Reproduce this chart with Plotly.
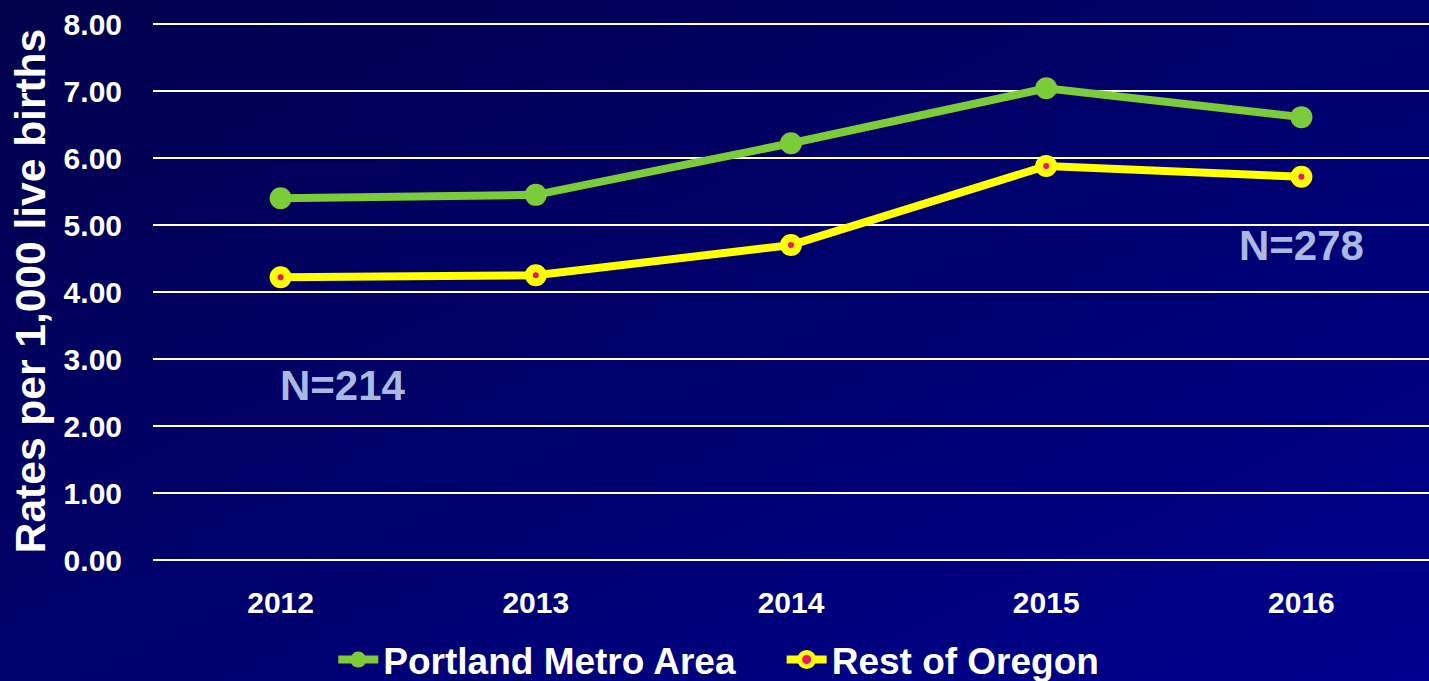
import base64
import plotly.graph_objects as go

years = [2012, 2013, 2014, 2015, 2016]
year_labels = ["2012", "2013", "2014", "2015", "2016"]
portland = [5.40, 5.45, 6.22, 7.04, 6.61]
rest = [4.22, 4.25, 4.70, 5.88, 5.72]
y_ticks = [0, 1, 2, 3, 4, 5, 6, 7, 8]
y_tick_labels = ["0.00", "1.00", "2.00", "3.00", "4.00", "5.00", "6.00", "7.00", "8.00"]
n_labels = ["N=214", "N=278"]
n_label_y = [2.6, 4.7]

W, H = 1429, 681
ML, MR, MT, MB = 153, 0, 22, 121
PW, PH = W - ML - MR, H - MT - MB

svg = (
    '<svg xmlns="http://www.w3.org/2000/svg" width="1429" height="681" preserveAspectRatio="none">'
    '<defs><linearGradient id="g" x1="0" y1="0" x2="1" y2="1">'
    '<stop offset="0" stop-color="#00004C"/>'
    '<stop offset="0.5" stop-color="#00006C"/>'
    '<stop offset="1" stop-color="#00008F"/>'
    '</linearGradient></defs>'
    '<rect width="1429" height="681" fill="url(#g)"/></svg>'
)
bg_src = "data:image/svg+xml;base64," + base64.b64encode(svg.encode()).decode()

font = "Liberation Sans, Arial, sans-serif"
gap = "\u00a0" * 4

fig = go.Figure()
fig.add_trace(go.Scatter(
    x=years, y=portland, name="<b>Portland Metro Area</b>" + gap, mode="lines+markers",
    line=dict(color="#7CCB38", width=8),
    marker=dict(color="#7CCB38", size=22, symbol="circle"),
))
fig.add_trace(go.Scatter(
    x=years, y=rest, name="<b>Rest of Oregon</b>", mode="lines+markers",
    line=dict(color="#FFFF00", width=8),
    marker=dict(color="#F0136E", size=14, symbol="circle",
                line=dict(color="#FFFF00", width=8)),
))

fig.add_annotation(x=years[0], y=n_label_y[0], text="<b>" + n_labels[0] + "</b>",
                   showarrow=False, xshift=62,
                   font=dict(family=font, size=42, color="#A9B9E0"))
fig.add_annotation(x=years[4], y=n_label_y[1], text="<b>" + n_labels[1] + "</b>",
                   showarrow=False,
                   font=dict(family=font, size=42, color="#A9B9E0"))

fig.update_layout(
    width=W, height=H,
    margin=dict(l=ML, r=MR, t=MT, b=MB, pad=0, autoexpand=False),
    paper_bgcolor="#000066",
    plot_bgcolor="rgba(0,0,0,0)",
    images=[dict(source=bg_src, xref="paper", yref="paper",
                 x=-ML / PW, y=1 + MT / PH, sizex=W / PW, sizey=H / PH,
                 xanchor="left", yanchor="top", sizing="stretch", layer="below")],
    font=dict(family=font, color="white"),
    showlegend=True,
    legend=dict(orientation="h", xref="container", yref="container",
                x=0.503, xanchor="center", y=1 - 660 / H, yanchor="middle",
                font=dict(family=font, size=37, color="white"),
                bgcolor="rgba(0,0,0,0)", itemwidth=40),
    xaxis=dict(range=[2011.5, 2016.5], tickvals=years,
               ticktext=["<b>" + t + "</b>" for t in year_labels],
               showgrid=False, zeroline=False, showline=False,
               tickfont=dict(family=font, size=30, color="white"),
               ticks="outside", ticklen=16, tickcolor="rgba(0,0,0,0)"),
    yaxis=dict(range=[0, 8.03], tickvals=y_ticks,
               ticktext=["<b>" + t + "</b>" for t in y_tick_labels],
               tickfont=dict(family=font, size=30, color="white"),
               showgrid=True, gridcolor="white", gridwidth=2,
               zeroline=True, zerolinecolor="white", zerolinewidth=2,
               showline=False, ticks="outside", ticklen=24, tickcolor="rgba(0,0,0,0)",
               title=dict(text="<b>Rates per 1,000 live births</b>",
                          font=dict(family=font, size=42.5, color="white"), standoff=4)),
)

fig.write_html("out.html", config={"displayModeBar": False},
               post_script="document.body.style.margin='0px';")
